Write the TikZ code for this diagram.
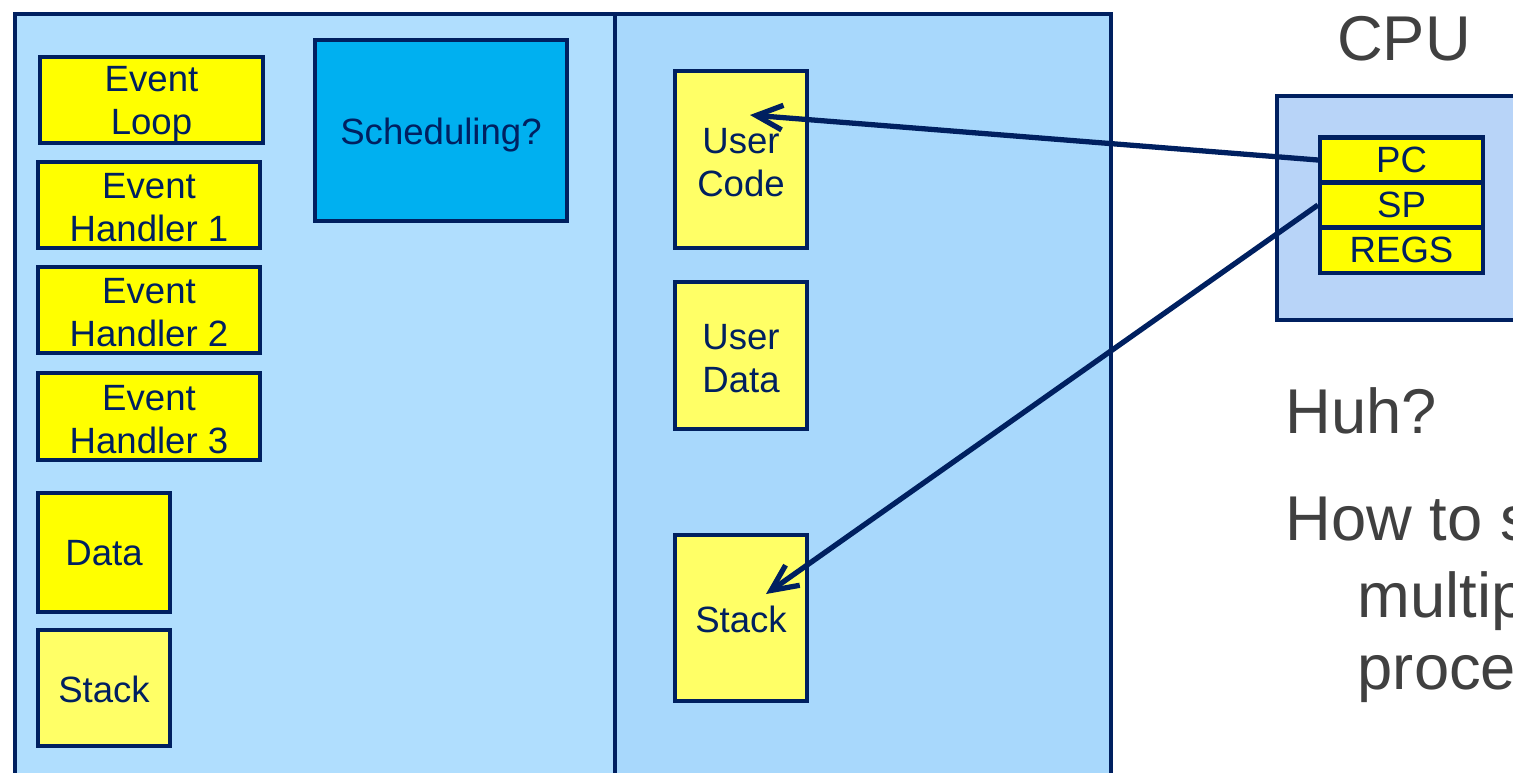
\documentclass[tikz,border=0pt]{standalone}
\usepackage{fontspec}
\setmainfont{Liberation Sans}
\usetikzlibrary{arrows.meta}
\definecolor{navy}{HTML}{002060}
\definecolor{leftblue}{HTML}{B0DEFE}
\definecolor{rightblue}{HTML}{A8D8FC}
\definecolor{cpublue}{HTML}{B8D4F8}
\definecolor{ybright}{HTML}{FFFF00}
\definecolor{ylight}{HTML}{FFFF66}
\definecolor{schedblue}{HTML}{00B0F0}
\definecolor{graytext}{HTML}{404040}
\begin{document}
\begin{tikzpicture}[x=0.01cm,y=-0.01cm,
  panel/.style={draw=navy, line width=1.15pt, inner sep=0pt, anchor=north west},
  box/.style={draw=navy, line width=1.15pt, inner sep=0pt},
  boxtxt/.style={text=navy, align=center, inner sep=0pt,
    font=\fontsize{10.4}{12.2}\selectfont},
  reg/.style={box, fill=ybright, minimum width=1.63cm, minimum height=0.45cm, text=navy,
    font=\fontsize{10.4}{12.2}\selectfont},
  bigtext/.style={text=graytext, inner sep=0pt, anchor=base west, font=\fontsize{18}{21}\selectfont},
  arr/.style={draw=navy, line width=1.5pt, -{Straight Barb[length=7.5pt,width=7pt]}}]
\useasboundingbox (0,0) rectangle (1513,772);
\clip (0,0) rectangle (1513,772);
% panels
\node[panel, fill=leftblue, minimum width=6cm, minimum height=8cm] (leftp) at (13,12) {};
\node[panel, fill=rightblue, minimum width=4.96cm, minimum height=8cm] (rightp) at (613,12) {};
% left boxes
\node[box, fill=ybright, minimum width=2.23cm, minimum height=0.86cm] (evloop) at (151.5,100) {};
\node[boxtxt, yshift=-0.04cm] (evloopt) at (evloop) {Event\\Loop};
\node[box, fill=ybright, minimum width=2.22cm, minimum height=0.86cm] (eh1) at (149,205) {};
\node[boxtxt, yshift=-0.03cm] (eh1t) at (eh1) {Event\\Handler 1};
\node[box, fill=ybright, minimum width=2.22cm, minimum height=0.86cm] (eh2) at (149,310) {};
\node[boxtxt, yshift=-0.03cm] (eh2t) at (eh2) {Event\\Handler 2};
\node[box, fill=ybright, minimum width=2.22cm, minimum height=0.87cm] (eh3) at (149,416.5) {};
\node[boxtxt, yshift=-0.03cm] (eh3t) at (eh3) {Event\\Handler 3};
\node[box, fill=ybright, minimum width=1.32cm, minimum height=1.19cm] (data) at (104,552.5) {};
\node[boxtxt, yshift=-0.01cm] (datat) at (data) {Data};
\node[box, fill=ylight, minimum width=1.32cm, minimum height=1.16cm] (stackl) at (104,688) {};
\node[boxtxt, yshift=-0.01cm] (stacklt) at (stackl) {Stack};
\node[box, fill=schedblue, minimum width=2.52cm, minimum height=1.8cm] (sched) at (441,130.5) {};
\node[boxtxt, yshift=-0.045cm] (schedt) at (sched) {Scheduling?};
% right boxes
\node[box, fill=ylight, minimum width=1.32cm, minimum height=1.77cm] (ucode) at (741,159.5) {};
\node[boxtxt, yshift=-0.03cm] (ucodet) at (ucode) {User\\Code};
\node[box, fill=ylight, minimum width=1.32cm, minimum height=1.47cm] (udata) at (741,355.5) {};
\node[boxtxt, yshift=-0.03cm] (udatat) at (udata) {User\\Data};
\node[box, fill=ylight, minimum width=1.32cm, minimum height=1.66cm] (stackr) at (741,618) {};
\node[boxtxt, yshift=-0.01cm] (stackrt) at (stackr) {Stack};
% CPU
\node[text=graytext, inner sep=0pt, anchor=base, font=\fontsize{18}{21}\selectfont] (cputitle) at (1404,60) {CPU};
\node[panel, fill=cpublue, minimum width=3cm, minimum height=2.24cm] (cpu) at (1275,94) {};
\node[reg] (pc) at (1401.5,160) {PC};
\node[reg] (sp) at (1401.5,205) {SP};
\node[reg] (regs) at (1401.5,250) {REGS};
% text
\node[bigtext] (huh) at (1285,433) {Huh?};
\node[bigtext] (how) at (1285,540) {How to s};
\node[bigtext] (mult) at (1357,617) {multip};
\node[bigtext] (proc) at (1357,689) {proce};
% arrows
\coordinate (tip1) at (750,115);
\coordinate (tip2) at (766,594);
\draw[arr] (pc.west) -- (tip1);
\draw[arr] (sp.west) -- (tip2);
\end{tikzpicture}
\end{document}
